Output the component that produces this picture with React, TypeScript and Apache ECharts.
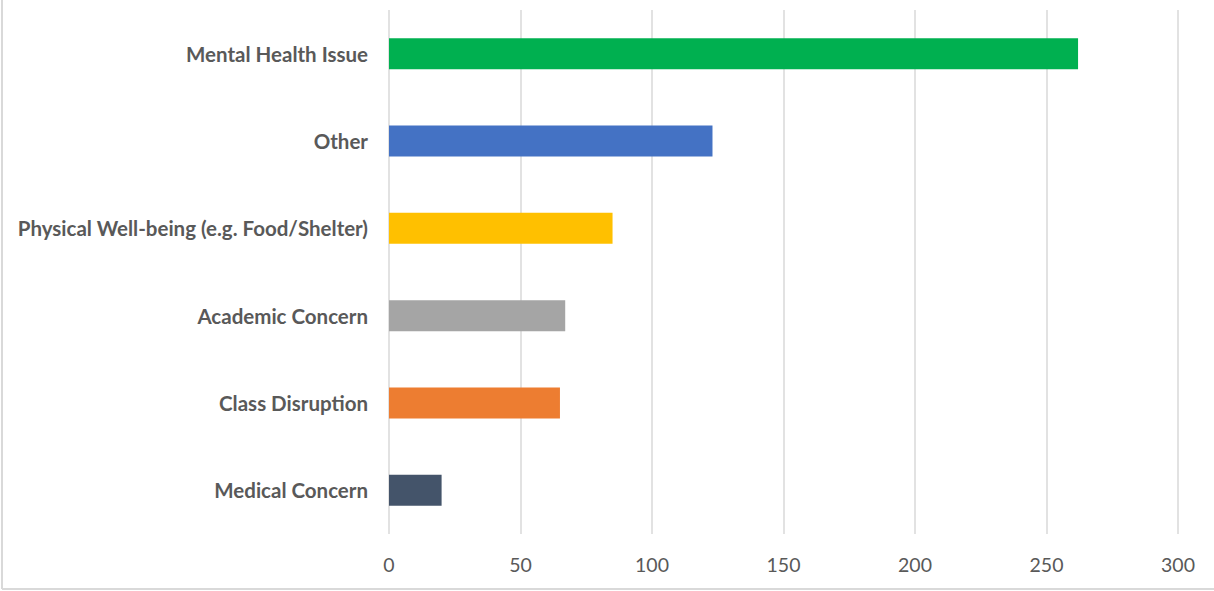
import React, { useEffect, useRef } from "react";
import * as echarts from "echarts";

const categories = [
  "Mental Health Issue",
  "Other",
  "Physical Well-being (e.g. Food/Shelter)",
  "Academic Concern",
  "Class Disruption",
  "Medical Concern",
];
const values = [262, 123, 85, 67, 65, 20];
const colors = ["#00B050", "#4472C4", "#FFC000", "#A5A5A5", "#ED7D31", "#44546A"];
const xTicks = { min: 0, max: 300, interval: 50 };

export default function App() {
  const ref = useRef<HTMLDivElement>(null);
  useEffect(() => {
    document.body.style.margin = "0";
    const chart = echarts.init(ref.current!, null, { renderer: "svg" });
    chart.setOption({
      animation: false,
      backgroundColor: "#ffffff",
      textStyle: { fontFamily: "Lato" },
      grid: { left: 389, right: 36, top: 10, bottom: 57 },
      xAxis: {
        type: "value",
        min: xTicks.min,
        max: xTicks.max,
        interval: xTicks.interval,
        axisLine: { show: false },
        axisTick: { show: false },
        splitLine: { show: true, lineStyle: { color: "#d9d9d9", width: 1.5 } },
        axisLabel: { color: "#595959", fontSize: 19.5, margin: 20, fontFamily: "Lato" },
      },
      yAxis: {
        type: "category",
        inverse: true,
        data: categories,
        axisLine: { show: false },
        axisTick: { show: false },
        axisLabel: {
          color: "#595959",
          fontSize: 20.5,
          fontWeight: "bold",
          margin: 21,
          fontFamily: "Lato",
        },
      },
      series: [
        {
          type: "bar",
          data: values.map((v, i) => ({ value: v, itemStyle: { color: colors[i] } })),
          barWidth: 31,
        },
      ],
      graphic: [
        { type: "line", shape: { x1: 2, y1: 0, x2: 2, y2: 589 }, style: { stroke: "#d9d9d9", lineWidth: 2 } },
        { type: "line", shape: { x1: 2, y1: 589, x2: 1214, y2: 589 }, style: { stroke: "#d9d9d9", lineWidth: 2 } },
      ],
    });
    return () => chart.dispose();
  }, []);
  return <div ref={ref} style={{ width: 1214, height: 591 }} />;
}
